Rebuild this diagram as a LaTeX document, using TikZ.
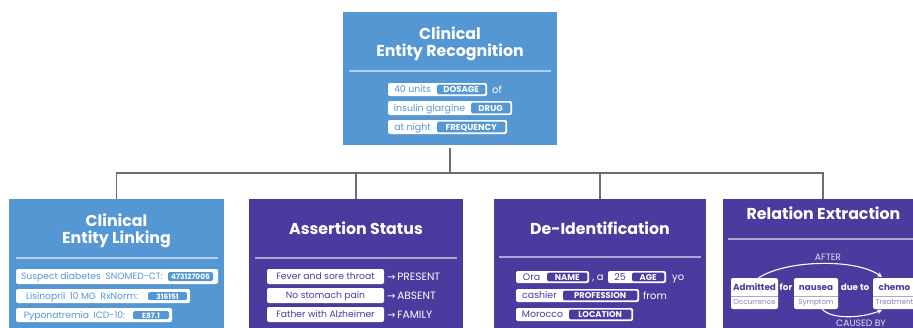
\documentclass[tikz,border=0pt]{standalone}
\usepackage{fontspec}
\setmainfont{Poppins}
\newfontfamily\symf{DejaVu Sans}
\usetikzlibrary{arrows.meta,calc}
\definecolor{cblue}{HTML}{5497D3}
\definecolor{cpurple}{HTML}{4A3B9F}
\definecolor{cline}{HTML}{6E6E6E}
\colorlet{tagc}{cblue}
\colorlet{pcol}{cblue}
\newcommand\tins{1.6}
\newcommand\pill[9]{%
  \fill[white,rounded corners=2pt] (#2,#3) rectangle (#4,#5);
  \fill[tagc,rounded corners=1.5pt] (#6,#3+\tins) rectangle (#7,#5-\tins);
  \node[ptxt] (#1) at ({(#2+#6)/2},{(#3+#5)/2+3.3}) {#8};
  \node[tagtxt] (#1t) at ({(#6+#7)/2},{(#3+#5)/2+3.0}) {#9};}
\newcommand\ent[5]{% name x1 x2 top bottom
  \node[entbox, minimum width={#3-#2}, anchor=north west] (#1) at (#2,278) {};
  \draw[cpurple!45, line width=.6pt] (#1.west |- 0,296) -- (#1.east |- 0,296);
  \node[enttop] (#1a) at ({(#2+#3)/2},290.4) {#4};
  \node[entbot] (#1b) at ({(#2+#3)/2},304.8) {#5};}
\begin{document}
\begin{tikzpicture}[x=1pt,y=-1pt,
  bbox/.style={draw=none, inner sep=0, outer sep=0},
  conn/.style={draw=cline, line width=1.2pt},
  sep/.style={draw=white, draw opacity=.55, line width=1.2pt},
  title/.style={text=white, font=\fontsize{15.8}{18}\selectfont\bfseries, anchor=base, inner sep=0},
  ptxt/.style={text=pcol, font=\fontsize{9.4}{11}\selectfont, anchor=base, inner sep=0},
  tagtxt/.style={text=white, font=\fontsize{8.6}{10}\selectfont\bfseries, anchor=base, inner sep=0},
  wtxt/.style={text=white, font=\fontsize{10}{12}\selectfont, anchor=base, inner sep=0},
  entbox/.style={fill=white, rounded corners=2pt, minimum height=31pt, inner sep=0, outer sep=0},
  enttop/.style={text=cpurple, font=\fontsize{8.8}{10}\selectfont\bfseries, anchor=base, inner sep=0},
  entbot/.style={text=cpurple!65, font=\fontsize{7.2}{8}\selectfont, anchor=base, inner sep=0},
  small/.style={text=white, text opacity=.85, font=\fontsize{9.2}{10}\selectfont, anchor=base, inner sep=0},
  rarrow/.style={draw=white, line width=1.1pt, -{Stealth[length=5pt,width=5pt]}}
]
\useasboundingbox (0,0) rectangle (913,327);
\clip (0,0) rectangle (913,327);

% ---------- boxes
\node[bbox, fill=cblue, minimum width=214pt, minimum height=133pt, anchor=north west] (rec) at (343,12) {};
\node[bbox, fill=cblue, minimum width=215pt, minimum height=150pt, anchor=north west] (cel) at (9,199) {};
\node[bbox, fill=cpurple, minimum width=214pt, minimum height=150pt, anchor=north west] (ast) at (249,199) {};
\node[bbox, fill=cpurple, minimum width=212pt, minimum height=150pt, anchor=north west] (did) at (494,199) {};
\node[bbox, fill=cpurple, minimum width=200pt, minimum height=150pt, anchor=north west] (rel) at (723,199) {};

% ---------- connectors
\draw[conn, shorten <=3pt] (rec.south) -- ++(0,28) coordinate (hub);
\draw[conn] (cel.north) |- (hub) -| (rel.north);
\draw[conn] (ast.north) -- (ast.north |- hub);
\draw[conn] (did.north) -- (did.north |- hub);

% ---------- Clinical Entity Recognition
\node[title] (rect1) at (450,39.5) {Clinical};
\node[title] (rect2) at (450,56.5) {Entity Recognition};
\draw[sep] (349,71) -- (551,71);
\pill{r1}{388}{83}{487}{96}{437}{485.4}{40 units}{DOSAGE}
\node[wtxt] (rof) at (497,93) {of};
\pill{r2}{388}{101}{512}{115}{471}{510.4}{insulin glargine}{DRUG}
\pill{r3}{388}{120}{507}{134}{437}{505.4}{at night}{FREQUENCY}

% ---------- Clinical Entity Linking
\node[title] (celt1) at (116.5,226.5) {Clinical};
\node[title] (celt2) at (116.5,243.5) {Entity Linking};
\draw[sep] (16,258) -- (218,258);
\renewcommand\tins{3}
\tikzset{tagtxt/.append style={font=\fontsize{7.4}{8}\selectfont\bfseries},
         ptxt/.append style={font=\fontsize{9.2}{11}\selectfont}}
\pill{l1}{16}{269}{218}{284}{168}{213}{Suspect diabetes\enspace SNOMED-CT:}{473127005}
\pill{l2}{16}{289}{190}{303}{148}{187}{Lisinopril\enspace 10 MG\enspace RxNorm:}{316151}
\pill{l3}{16}{308}{172}{322}{133}{169}{Pyponatremia\enspace ICD-10:}{E87.1}

% ---------- Assertion Status
\node[title] (astt) at (356,234.5) {Assertion Status};
\draw[sep] (255,258) -- (457,258);
\foreach \n/\t/\s/\ya/\yb in {a1/Fever and sore throat/PRESENT/269/284, a2/No stomach pain/ABSENT/288/303, a3/Father with Alzheimer/FAMILY/307/322}{
  \fill[white, rounded corners=2pt] (267,\ya) rectangle (384,\yb);
  \node[ptxt, text=cpurple] (\n) at (325.5,{(\ya+\yb)/2+3.3}) {\t};
  \node[wtxt, anchor=base west, font=\fontsize{10.6}{12}\selectfont] (\n s) at (387,{(\ya+\yb)/2+3.7}) {{\symf\fontsize{10}{12}\selectfont →}\,\s};
}

% ---------- De-Identification
\node[title] (didt) at (600,234.5) {De-Identification};
\draw[sep] (499,257) -- (701,257);
\colorlet{tagc}{cpurple}
\colorlet{pcol}{cpurple}
\renewcommand\tins{1.6}
\tikzset{tagtxt/.append style={font=\fontsize{8.4}{10}\selectfont\bfseries},
         ptxt/.append style={font=\fontsize{9.4}{11}\selectfont}}
\pill{d1}{516}{271}{589}{283}{547}{587.4}{Ora}{NAME}
\node[wtxt] (dcomma) at (598,280.5) {, a};
\pill{d2}{608}{271}{666}{283}{632}{664.4}{25}{AGE}
\node[wtxt, anchor=base west] (dyo) at (672,280.5) {yo};
\pill{d3}{516}{289}{639}{302}{563}{637.4}{cashier}{PROFESSION}
\node[wtxt, anchor=base west] (dfrom) at (643,299) {from};
\pill{d4}{516}{308}{633}{321}{569}{631.4}{Morocco}{LOCATION}

% ---------- Relation Extraction
\node[title] (relt) at (823.5,219.5) {Relation Extraction};
\draw[sep] (728,239) -- (920,239);
\ent{adm}{731}{778}{Admitted}{Occurrence}
\ent{nau}{794}{838}{nausea}{Symptom}
\ent{chm}{873}{916}{chemo}{Treatment}
\node[enttop, text=white] (rfor) at (786,290.4) {for};
\node[enttop, text=white] (rdue) at (855,290.4) {due to};
\draw[rarrow] ($(adm.north)+(4,0)$) .. controls (785,260) and (855,258) .. ($(chm.north west)+(9,-1)$);
\node[small] (after) at (828,260.5) {AFTER};
\draw[rarrow] ($(nau.south)+(6,0)$) .. controls (832,320) and (862,318) .. ($(chm.south west)+(9,1)$);
\node[small] (causedby) at (861,326.5) {CAUSED BY};
\end{tikzpicture}
\end{document}
